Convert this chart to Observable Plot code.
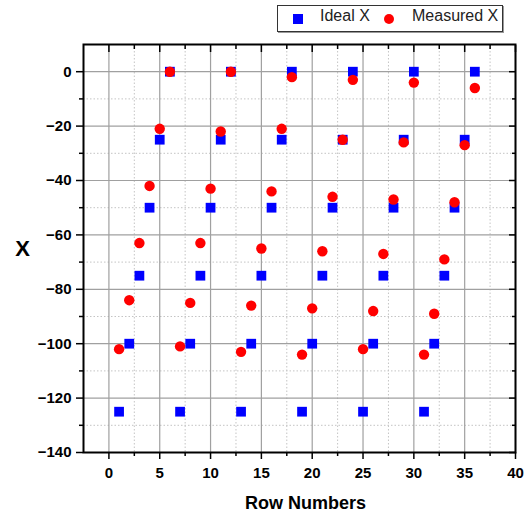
<!DOCTYPE html>
<html>
<head>
<meta charset="utf-8">
<script src="https://cdn.jsdelivr.net/npm/d3@7"></script>
<script src="https://cdn.jsdelivr.net/npm/@observablehq/plot@0.6"></script>
<style>
  html, body { margin: 0; padding: 0; background: white; }
  body { width: 528px; height: 515px; overflow: hidden; font-family: "Liberation Sans", Arial, sans-serif; }
  #legend { position: relative; width: 528px; height: 36px; }
  #legend .box { position: absolute; left: 277px; top: 5px; width: 224px; height: 25px; border: 1px solid #333; box-shadow: 1px 1px 0 #999; background: white; }
  #legend .sym { position: absolute; }
  #legend .lab { position: absolute; top: 8px; font-size: 16px; color: #222; line-height: 16px; white-space: nowrap; }
  #chart svg { display: block; }
</style>
</head>
<body>
<div id="legend"></div>
<div id="chart"></div>
<script>
// ---- data ----
const rowNumbers = [1,2,3,4,5,6,7,8,9,10,11,12,13,14,15,16,17,18,19,20,21,22,23,24,25,26,27,28,29,30,31,32,33,34,35,36];
const idealX = [-125,-100,-75,-50,-25,0, -125,-100,-75,-50,-25,0, -125,-100,-75,-50,-25,0,
                -125,-100,-75,-50,-25,0, -125,-100,-75,-50,-25,0, -125,-100,-75,-50,-25,0];
const measuredX = [-102,-84,-63,-42,-21,0, -101,-85,-63,-43,-22,0, -103,-86,-65,-44,-21,-2,
                   -104,-87,-66,-46,-25,-3, -102,-88,-67,-47,-26,-4, -104,-89,-69,-48,-27,-6];
const seriesNames = ["Ideal X", "Measured X"];
const seriesColors = ["#0000ff", "#ff0000"];
const xMajorTicks = [0,5,10,15,20,25,30,35,40];
const xMinorTicks = [2.5,7.5,12.5,17.5,22.5,27.5,32.5,37.5];
const yMajorTicks = [-140,-120,-100,-80,-60,-40,-20,0];
const yMinorTicks = [-130,-110,-90,-70,-50,-30,-10];
const xTitle = "Row Numbers";
const yTitle = "X";

const ideal = rowNumbers.map((r, i) => ({row: r, value: idealX[i]}));
const measured = rowNumbers.map((r, i) => ({row: r, value: measuredX[i]}));

// ---- legend ----
const legend = document.getElementById("legend");
legend.innerHTML = `
  <div class="box"></div>
  <div class="sym" style="left:293px;top:14px;width:10px;height:10px;background:${seriesColors[0]}"></div>
  <div class="lab" style="left:320px">${seriesNames[0]}</div>
  <div class="sym" style="left:384px;top:14px;width:10px;height:10px;border-radius:50%;background:${seriesColors[1]}"></div>
  <div class="lab" style="left:412px">${seriesNames[1]}</div>`;

// ---- chart ----
const blank = () => "";
const chart = Plot.plot({
  width: 528,
  height: 479,
  marginTop: 8,
  marginBottom: 63,
  marginLeft: 83,
  marginRight: 13,
  x: {domain: [-2.5, 40]},
  y: {domain: [-140, 10]},
  style: {fontFamily: "'Liberation Sans', Arial, sans-serif", fontSize: "15px", fontWeight: "bold", color: "black", background: "white"},
  marks: [
    Plot.gridX(xMinorTicks, {stroke: "#c4c4c4", strokeOpacity: 1, strokeDasharray: "1.5,2"}),
    Plot.gridY(yMinorTicks, {stroke: "#c4c4c4", strokeOpacity: 1, strokeDasharray: "1.5,2"}),
    Plot.gridX(xMajorTicks, {stroke: "#a0a0a0", strokeOpacity: 1, strokeWidth: 1.2}),
    Plot.gridY(yMajorTicks, {stroke: "#a0a0a0", strokeOpacity: 1, strokeWidth: 1.2}),
    Plot.axisX(xMajorTicks, {anchor: "bottom", tickSize: 7, tickPadding: 8, label: null, strokeWidth: 1.5}),
    Plot.axisX(xMinorTicks, {anchor: "bottom", tickSize: 4, tickFormat: blank, label: null, strokeWidth: 1.5}),
    Plot.axisX(xMajorTicks, {anchor: "top", tickSize: -7, tickFormat: blank, label: null, strokeWidth: 1.5}),
    Plot.axisX(xMinorTicks, {anchor: "top", tickSize: -4, tickFormat: blank, label: null, strokeWidth: 1.5}),
    Plot.axisY(yMajorTicks, {anchor: "left", tickSize: 7, tickPadding: 5, label: null, strokeWidth: 1.5}),
    Plot.axisY(yMinorTicks, {anchor: "left", tickSize: 4, tickFormat: blank, label: null, strokeWidth: 1.5}),
    Plot.axisY(yMajorTicks, {anchor: "right", tickSize: -7, tickFormat: blank, label: null, strokeWidth: 1.5}),
    Plot.axisY(yMinorTicks, {anchor: "right", tickSize: -4, tickFormat: blank, label: null, strokeWidth: 1.5}),
    Plot.dot(ideal, {x: "row", y: "value", symbol: "square", r: 5.5, fill: seriesColors[0], stroke: null}),
    Plot.dot(measured, {x: "row", y: "value", symbol: "circle", r: 5.2, fill: seriesColors[1], stroke: null}),
    Plot.frame({stroke: "black", strokeWidth: 2}),
    Plot.text([xTitle], {frameAnchor: "bottom", dx: 6, dy: 56, fontSize: 18, fontWeight: "bold", fill: "black"}),
    Plot.text([yTitle], {frameAnchor: "left", textAnchor: "middle", dx: -61, fontSize: 22, fontWeight: "bold", fill: "black"})
  ]
});
document.getElementById("chart").appendChild(chart);
</script>
</body>
</html>
